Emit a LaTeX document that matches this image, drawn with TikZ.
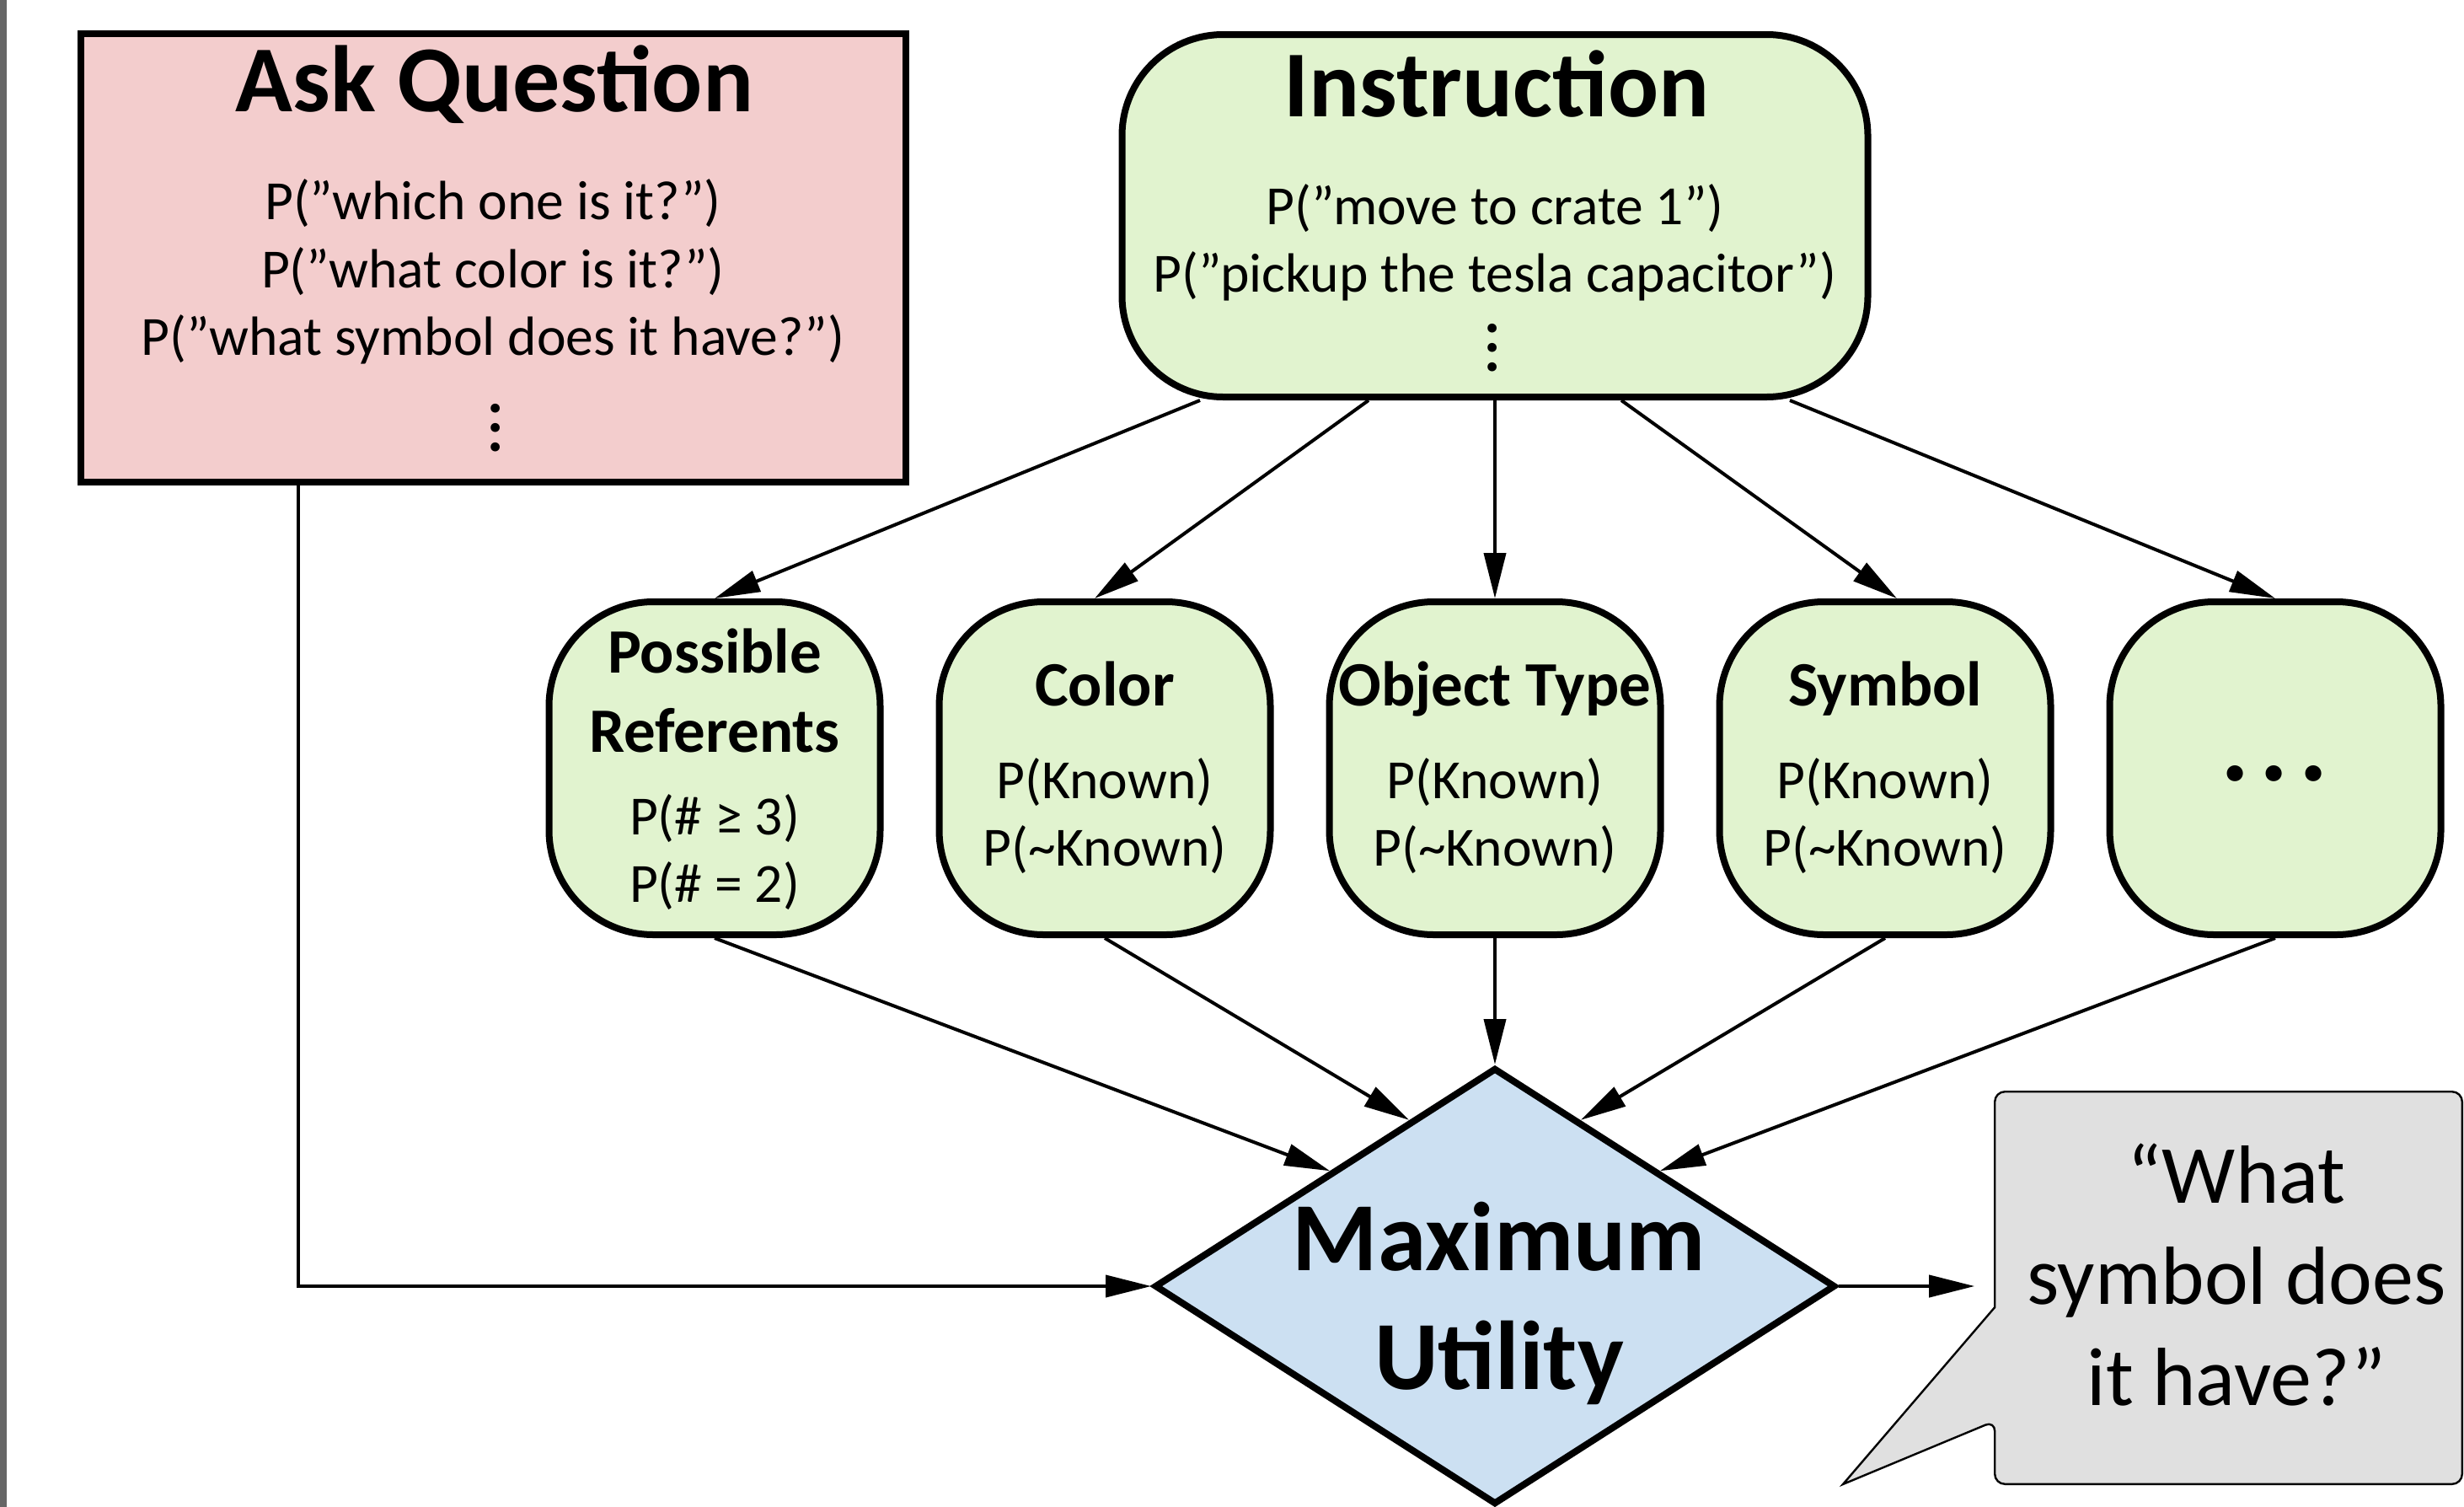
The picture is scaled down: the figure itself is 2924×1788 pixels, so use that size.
\documentclass[tikz,border=0pt]{standalone}
\usepackage{fontspec}
\setmainfont{Carlito}
\usetikzlibrary{arrows.meta,shapes.geometric,calc}
\definecolor{pinkfill}{HTML}{F3CDCD}
\definecolor{greenfill}{HTML}{E1F3CF}
\definecolor{bluefill}{HTML}{CCE0F2}
\definecolor{grayfill}{HTML}{E0E0E0}
\definecolor{barcol}{HTML}{666666}
\newcommand\fTitle{\fontsize{28}{34}\selectfont\bfseries}
\newcommand\fBody{\fontsize{16.4}{20}\selectfont}
\newcommand\fSub{\fontsize{18.75}{23}\selectfont\bfseries}
\newcommand\fDia{\fontsize{29}{35}\selectfont\bfseries}
\newcommand\fBub{\fontsize{24.5}{30}\selectfont}
\newcommand\fDots{\fontsize{32}{36}\selectfont\bfseries}
\newcommand\myvdots{\vbox{\fontsize{18}{18}\selectfont\bfseries\baselineskip=5.75pt\lineskiplimit=-20pt\lineskip=0pt\hbox{.}\hbox{.}\hbox{.}}}
\begin{document}
\begin{tikzpicture}[x=0.25pt,y=-0.25pt,
  box/.style={draw, line width=2pt, rectangle, inner sep=0pt},
  askbox/.style={box, fill=pinkfill, minimum width=244.75pt, minimum height=133pt},
  instrbox/.style={box, rounded corners=30pt, fill=greenfill, minimum width=221.25pt, minimum height=107.5pt},
  featbox/.style={box, rounded corners=31pt, fill=greenfill, minimum width=98.25pt, minimum height=98.75pt},
  decision/.style={draw, line width=2pt, diamond, aspect=1.56, fill=bluefill, minimum width=202pt, minimum height=129.5pt, inner sep=0pt},
  bubbleline/.style={draw, line width=0.6pt, fill=grayfill},
  txt/.style={inner sep=0pt, anchor=base},
  arr/.style={line width=1pt, -{Triangle[length=13.5pt,width=6.5pt]}}]
\useasboundingbox (0,0) rectangle (2924,1788);
\fill[barcol] (0,0) rectangle (7.5,1788);

% shapes
\node[askbox] (ask) at (585.5,306) {};
\node[instrbox] (instr) at (1774,256) {};
\node[featbox] (ref) at (848,911.5) {};
\node[featbox] (color) at (1311,911.5) {};
\node[featbox] (otype) at (1774,911.5) {};
\node[featbox] (sym) at (2237,911.5) {};
\node[featbox] (more) at (2700,911.5) {};
\node[decision] (mu) at (1774,1526) {};
\node[inner sep=0pt, minimum width=138.25pt, minimum height=116pt] (bubble) at (2644.5,1528) {};
\coordinate (tailtop) at ($(bubble.west)+(0,23)$);
\coordinate (tailbot) at ($(bubble.west)+(0,158)$);
\coordinate (tailtip) at (2187,1761);
\draw[bubbleline] (tailtop) [rounded corners=3pt] -- (bubble.north west) -- (bubble.north east) -- (bubble.south east) -- (bubble.south west) -- (tailbot) [sharp corners] -- (tailtip) -- cycle;

% texts
\node[txt] (askT) at (587,132) {\fTitle Ask Question};
\node[txt] (askL1) at (585,260.5) {\fBody P(”which one is it?”)};
\node[txt] (askL2) at (585,341) {\fBody P(”what color is it?”)};
\node[txt] (askL3) at (585,421) {\fBody P(”what symbol does it have?”)};
\node[inner sep=0pt] (askD) at (588,508) {\myvdots};

\node[txt] (instrT) at (1776,138) {\fTitle Instruction};
\node[txt] (instrL1) at (1774,266) {\fBody P(”move to crate 1”)};
\node[txt] (instrL2) at (1774,346) {\fBody P(”pickup the tesla capacitor”)};
\node[inner sep=0pt] (instrD) at (1771,413) {\myvdots};

\node[txt] (refT1) at (848,798) {\fSub Possible};
\node[txt] (refT2) at (848,892) {\fSub Referents};
\node[txt] (refL1) at (848,990) {\fBody P(\# ≥ 3)};
\node[txt] (refL2) at (848,1070) {\fBody P(\# = 2)};

\node[txt] (colorT) at (1311,837) {\fSub Color};
\node[txt] (colorL1) at (1311,947) {\fBody P(Known)};
\node[txt] (colorL2) at (1311,1027) {\fBody P(\textasciitilde Known)};

\node[txt] (otypeT) at (1774,837) {\fSub Object Type};
\node[txt] (otypeL1) at (1774,947) {\fBody P(Known)};
\node[txt] (otypeL2) at (1774,1027) {\fBody P(\textasciitilde Known)};

\node[txt] (symT) at (2237,837) {\fSub Symbol};
\node[txt] (symL1) at (2237,947) {\fBody P(Known)};
\node[txt] (symL2) at (2237,1027) {\fBody P(\textasciitilde Known)};

\node[inner sep=0pt] (moreT) at (2699,918) {\fDots .\kern3pt.\kern3pt.};

\node[txt] (muT1) at (1779,1507) {\fDia Maximum};
\node[txt] (muT2) at (1779,1648) {\fDia Utility};

\node[txt] (bubT1) at (2654,1427) {\fBub “What};
\node[txt] (bubT2) at (2654,1547) {\fBub symbol does};
\node[txt] (bubT3) at (2654,1667) {\fBub it have?”};

% connectors
\draw[arr] ($(instr.south)+(-350,0)$) -- (ref.north);
\draw[arr] ($(instr.south)+(-150,0)$) -- ($(color.north)+(-12,0)$);
\draw[arr] (instr.south) -- (otype.north);
\draw[arr] ($(instr.south)+(150,0)$) -- ($(sym.north)+(14,0)$);
\draw[arr] ($(instr.south)+(350,0)$) -- (more.north);

\draw[arr] (ref.south) -- ($(mu.west)!0.52!(mu.north)$);
\draw[arr] (color.south) -- ($(mu.west)!0.75!(mu.north)$);
\draw[arr] (otype.south) -- (mu.north);
\draw[arr] (sym.south) -- ($(mu.north)!0.25!(mu.east)$);
\draw[arr] (more.south) -- ($(mu.north)!0.48!(mu.east)$);

\draw[arr] ($(ask.south west)+(262,0)$) |- (mu.west);
\coordinate (bgap) at ($(bubble.west)+(-24,0)$);
\draw[arr] (mu.east) -- (mu.east -| bgap);
\end{tikzpicture}
\end{document}
